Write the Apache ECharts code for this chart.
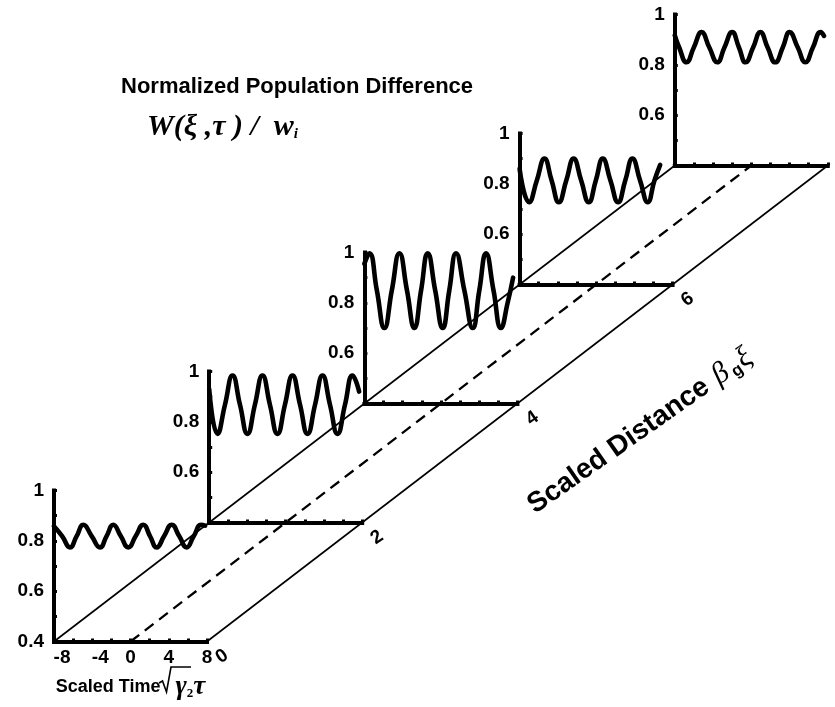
<!DOCTYPE html>
<html>
<head>
<meta charset="utf-8">
<script src="https://cdn.jsdelivr.net/npm/echarts@6.0.0/dist/echarts.min.js"></script>
<style>
html, body { margin: 0; padding: 0; background: #fff; }
#chart { width: 835px; height: 707px; }
</style>
</head>
<body>
<div id="chart"></div>
<script>
// data
const distances = [0, 2, 4, 6, 8]
const timeTicks = [-8, -4, 0, 4, 8]
const levelTicks = [0.4, 0.6, 0.8, 1]
const floorTimes = [-8, 0, 8]

const w0 = [[-8, 0.858], [-7.15, 0.819], [-6.33, 0.774], [-5.63, 0.819], [-4.93, 0.864], [-4.06, 0.819],
  [-3.19, 0.774], [-2.5, 0.819], [-1.8, 0.864], [-1.02, 0.819], [-0.23, 0.774], [0.55, 0.819],
  [1.34, 0.864], [2.04, 0.819], [2.74, 0.774], [3.52, 0.819], [4.31, 0.864], [5.09, 0.819],
  [5.87, 0.774], [6.62, 0.819], [7.4, 0.864], [7.8, 0.86]]
const w2 = [[-8, 0.93], [-7.13, 0.752], [-6.35, 0.868], [-5.56, 0.984], [-4.78, 0.868], [-4.0, 0.752],
  [-3.22, 0.868], [-2.43, 0.984], [-1.65, 0.868], [-0.86, 0.752], [-0.08, 0.868], [0.71, 0.984],
  [1.5, 0.868], [2.28, 0.752], [3.07, 0.868], [3.85, 0.984], [4.63, 0.868], [5.42, 0.752],
  [6.2, 0.868], [6.99, 0.984], [7.68, 0.92]]
const w4 = [[-8, 0.955], [-7.48, 0.997], [-6.7, 0.85], [-5.91, 0.70], [-5.13, 0.85], [-4.34, 0.997],
  [-3.55, 0.85], [-2.77, 0.70], [-2.07, 0.85], [-1.38, 0.997], [-0.6, 0.85], [0.19, 0.70],
  [0.88, 0.85], [1.58, 0.997], [2.45, 0.85], [3.33, 0.70], [4.02, 0.85], [4.72, 0.997],
  [5.5, 0.85], [6.28, 0.70], [6.98, 0.80], [7.55, 0.90]]
const w6 = [[-8, 0.86], [-7.0, 0.727], [-6.2, 0.813], [-5.4, 0.90], [-4.65, 0.813], [-3.9, 0.727],
  [-3.12, 0.813], [-2.35, 0.90], [-1.56, 0.813], [-0.77, 0.727], [-0.03, 0.813], [0.7, 0.90],
  [1.5, 0.813], [2.3, 0.727], [3.05, 0.813], [3.8, 0.90], [4.6, 0.813], [5.4, 0.727],
  [6.1, 0.813], [6.7, 0.875]]
const w8 = [[-8, 0.917], [-7.55, 0.87], [-6.78, 0.81], [-6.0, 0.87], [-5.2, 0.93], [-4.4, 0.87],
  [-3.55, 0.81], [-2.8, 0.87], [-2.0, 0.93], [-1.3, 0.87], [-0.6, 0.81], [0.2, 0.87],
  [0.95, 0.93], [1.7, 0.87], [2.5, 0.81], [3.3, 0.87], [4.0, 0.93], [4.85, 0.87],
  [5.65, 0.81], [6.45, 0.87], [7.25, 0.93], [7.6, 0.915]]
const curves = [w0, w2, w4, w6, w8]

// layout of the oblique view
const ORIGIN_X = 54
const BASE_Y = 641.5
const PANEL_W = 153
const PANEL_H = 151
const STEP_X = 77.6   // px per unit of distance
const STEP_Y = 59.5
const SHEAR = STEP_X / (PANEL_W / 16)
const XI_MAX = 8
const TILT = 35 * Math.PI / 180

const SANS = 'Liberation Sans, Arial, Helvetica, sans-serif'
const SERIF = 'Liberation Serif, Times New Roman, serif'
const INK = '#000'

const near = (list, v) => list.find(x => Math.abs(x - v) < 1e-6)

const grids = distances.map(d => ({
  left: ORIGIN_X + STEP_X * d,
  top: BASE_Y - STEP_Y * d - PANEL_H,
  width: PANEL_W,
  height: PANEL_H
}))
grids.push({
  left: ORIGIN_X,
  top: BASE_Y - STEP_Y * XI_MAX,
  width: PANEL_W + STEP_X * XI_MAX,
  height: STEP_Y * XI_MAX
})
const floorIdx = distances.length

const tickFont = { color: INK, fontFamily: SANS, fontWeight: 'bold', fontSize: 19 }

const xAxes = distances.map((d, i) => ({
  type: 'value', gridIndex: i, min: -8, max: 8, interval: 2,
  axisLine: { onZero: false, lineStyle: { color: INK, width: 4, cap: 'square' } },
  axisTick: { inside: true, length: 3, lineStyle: { color: INK, width: 3 } },
  splitLine: { show: false },
  axisLabel: {
    show: i === 0, margin: 7, ...tickFont,
    formatter: v => {
      const m = near(timeTicks, v)
      if (m === undefined) return ''
      return m < 0 ? '{neg|' + m + '}' : String(m)
    },
    rich: { neg: { ...tickFont, padding: [0, 0, 0, 16] } }
  },
  // the radical sign itself is drawn as a graphic below, r is its room
  name: i === 0 ? '{s|Scaled Time}{r| }{g|γ}{n|2}{t|τ}' : '',
  nameLocation: 'middle', nameGap: 32,
  nameTextStyle: {
    rich: {
      s: { fontFamily: SANS, fontWeight: 'bold', fontSize: 18, color: INK },
      r: { fontSize: 18, width: 15 },
      g: { fontFamily: SERIF, fontStyle: 'italic', fontWeight: 'bold', fontSize: 27, color: INK },
      n: { fontFamily: SERIF, fontWeight: 'bold', fontSize: 13, color: INK, verticalAlign: 'bottom' },
      t: { fontFamily: SERIF, fontStyle: 'italic', fontWeight: 'bold', fontSize: 27, color: INK }
    }
  }
}))
xAxes.push({ type: 'value', gridIndex: floorIdx, min: -8, max: 8 + SHEAR * XI_MAX, show: false })

const yAxes = distances.map((d, i) => {
  const shown = i === 0 ? levelTicks : levelTicks.filter(v => v > 0.5)
  return {
    type: 'value', gridIndex: i, min: 0.4, max: 1, interval: 0.1,
    axisLine: { show: true, onZero: false, lineStyle: { color: INK, width: 4, cap: 'square' } },
    axisTick: { show: true, inside: true, length: 3, lineStyle: { color: INK, width: 3 } },
    splitLine: { show: false },
    axisLabel: {
      margin: 10, ...tickFont,
      formatter: v => {
        const m = near(shown, v)
        return m === undefined ? '' : String(m)
      }
    }
  }
})
yAxes.push({ type: 'value', gridIndex: floorIdx, min: 0, max: XI_MAX, show: false })

const series = []
// floor lines at fixed times, running from distance 0 to 8
const floorDash = ['solid', [11, 7], 'solid']
floorTimes.forEach((t, k) => {
  series.push({
    type: 'line', xAxisIndex: floorIdx, yAxisIndex: floorIdx,
    data: [[t, 0], [t + SHEAR * XI_MAX, XI_MAX]],
    symbol: 'none', silent: true, z: 2,
    lineStyle: { color: INK, width: k === 1 ? 2.3 : 1.6, type: floorDash[k] }
  })
})
// population difference curves
curves.forEach((c, i) => {
  series.push({
    type: 'line', xAxisIndex: i, yAxisIndex: i, data: c,
    smooth: 0.5, symbol: 'none', clip: false, silent: true, z: 3,
    lineStyle: { color: INK, width: 4.6, cap: 'round', join: 'round' }
  })
})

const chart = echarts.init(document.getElementById('chart'))
chart.setOption({
  animation: false,
  backgroundColor: '#fff',
  title: [
    {
      text: 'Normalized Population Difference', left: 121, top: 76, padding: 0,
      textStyle: { fontFamily: SANS, fontWeight: 'bold', fontSize: 22, color: INK }
    },
    {
      text: '{w|W(ξ ,τ ) /  w}{i|i}', left: 147, top: 112, padding: 0,
      textStyle: {
        rich: {
          w: { fontFamily: SERIF, fontStyle: 'italic', fontWeight: 'bold', fontSize: 30, color: INK },
          i: { fontFamily: SERIF, fontStyle: 'italic', fontWeight: 'bold', fontSize: 15, color: INK, verticalAlign: 'bottom' }
        }
      }
    }
  ],
  grid: grids,
  xAxis: xAxes,
  yAxis: yAxes,
  series: series
})

// distance tick labels sit just past the far edge of the floor, tilted with it
const labelShift = 15
const distLabels = distances.map(d => {
  const [px, py] = chart.convertToPixel({ gridIndex: floorIdx }, [8 + SHEAR * d, d])
  return {
    type: 'text', x: px + labelShift, y: py + labelShift, rotation: TILT, silent: true,
    style: {
      text: String(d), fill: INK, fontFamily: SANS, fontWeight: 'bold', fontSize: 19,
      align: 'center', verticalAlign: 'middle'
    }
  }
})

chart.setOption({
  graphic: [
    {
      type: 'text', x: 640, y: 431, rotation: TILT, silent: true,
      style: {
        text: '{a|Scaled Distance}   {b|β}{c|g}{d|ξ}',
        align: 'center', verticalAlign: 'middle',
        rich: {
          a: { fontFamily: SANS, fontWeight: 'bold', fontSize: 28, fill: INK },
          b: { fontFamily: SERIF, fontStyle: 'italic', fontSize: 30, fill: INK },
          c: { fontFamily: SANS, fontWeight: 'bold', fontSize: 17, fill: INK, verticalAlign: 'bottom', padding: [0, 1, 0, 3] },
          d: { fontFamily: SERIF, fontStyle: 'italic', fontSize: 30, fill: INK, verticalAlign: 'top' }
        }
      }
    },
    {
      // radical sign of the time axis name
      type: 'polyline', silent: true,
      shape: { points: [[159, 683], [162.5, 681], [166.5, 692], [171, 667], [191, 667]] },
      style: { stroke: INK, lineWidth: 1.6, fill: null }
    },
    ...distLabels
  ]
})
</script>
</body>
</html>
